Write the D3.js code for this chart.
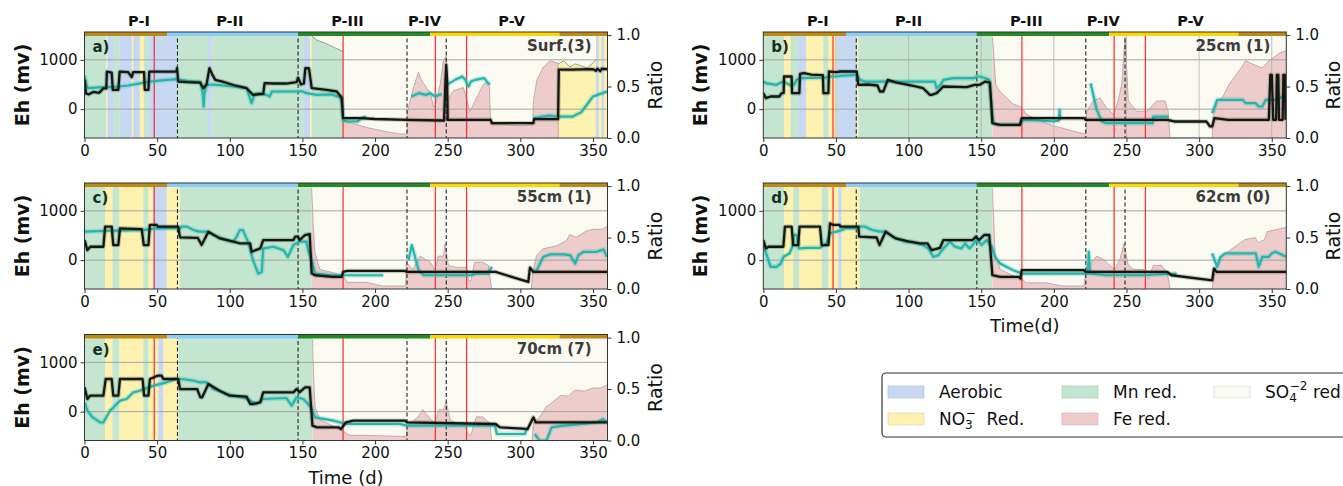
<!DOCTYPE html>
<html>
<head>
<meta charset="utf-8">
<script src="https://cdn.jsdelivr.net/npm/d3@7"></script>
<style>
  body { margin: 0; background: #fff; }
  svg { display: block; font-family: "DejaVu Sans", sans-serif; }
</style>
</head>
<body>
<svg id="chart" width="1343" height="486"></svg>
<script>
// ---- data (days, Eh in mV, ratio 0-1) ----
const ticksX = [0, 50, 100, 150, 200, 250, 300, 350];
const ticksEh = [0, 1000];
const ticksRatio = [0, 0.5, 1];
const redLines = [48, 178, 241.5, 263];
const dashLines = [64, 147, 222, 249];
const phaseNames = ["P-I", "P-II", "P-III", "P-IV", "P-V"];
const phaseCenters = [37.5, 100, 181, 234, 294];
const phaseBars = [[0, 57, "#bf8a14"], [57, 147, "#87cefa"], [147, 238, "#228b22"], [238, 327, "#ffd700"], [327, 360, "#bf8a14"]];

const regimeNames = ["Aerobic", "NO3 Red.", "Mn red.", "Fe red.", "SO4 red"];

// panel a) Surf.(3)
const spansA = [[0,15,"mn"],[15,15.8,"no3"],[15.8,20,"aer"],[20,24,"mn"],[24,32.5,"aer"],[32.5,33.6,"no3"],[33.6,38,"aer"],[38,41,"no3"],[41,44,"mn"],[44,63.5,"aer"],[63.5,85,"mn"],[85,87.5,"aer"],[87.5,150.6,"mn"],[150.6,155.2,"aer"],[155.2,156.4,"no3"],[156.4,178,"mn"],[178,326,"so4"],[326,352,"no3"],[352,354,"aer"],[354,356,"no3"],[356,357.5,"aer"],[357.5,360,"no3"]];
const feA = [[178,0.18],[185,0.14],[195,0.1],[205,0.07],[217,0.04],[222,0.04],[222.3,0.26],[226.4,0.49],[229.9,0.64],[232,0.56],[236.8,0.46],[238,0.45],[240.2,0.3],[241.5,0.32],[244.8,0.52],[247,0.75],[249,0.8],[249.3,0.36],[253.9,0.46],[260.8,0.49],[265.4,0.26],[268.8,0.36],[274.5,0.52],[276.8,0.54],[278.7,0.5],[279.6,0.13],[290,0.13],[300,0.12],[308.5,0.13],[309,0.36],[311.3,0.56],[315.9,0.69],[320.5,0.75],[325,0.73],[326,0.73],[326.1,0]];
const topA = [[156.4,0.99],[160,0.95],[166,0.92],[172,0.88],[177.8,0.84],null,[326,0.72],[330,0.75],[334,0.69],[338,0.72],[342,0.7],[346,0.68],[350,0.73],[352,0.76]];
const blackA = [[0,600],[1,320],[3,300],[6,350],[10,330],[13,420],[15,420],[15.4,760],[18.7,740],[19.5,390],[23.3,390],[24.2,760],[30,750],[32.5,650],[33.5,750],[41,750],[41.5,390],[44,390],[44.6,760],[63.3,760],[63.7,830],[64.5,560],[70,550],[79.5,540],[81.8,425],[84,500],[86,830],[88,700],[90,595],[95,560],[102.5,490],[111.6,425],[116,290],[123,310],[124,527],[130,520],[139,520],[146,550],[147,640],[149,500],[151,520],[152,830],[154.5,830],[156.4,425],[166.7,390],[173.6,358],[177,236],[178,-182],[190,-182],[200,-200],[221.8,-216],[247.5,-230],[248.5,600],[249,900],[249.6,600],[250,-216],[279.6,-216],[280.5,-284],[309,-284],[309.5,-203],[326,-203],[326.5,800],[335,800],[350,810],[352,780],[353,820],[355,770],[356,820],[360,810]];
const tealA = [[0,680],[1.5,480],[2.6,425],[10,440],[20,450],[30,480],[45,560],[55,590],[63.5,608],[65,595],[75,560],[80,550],[81.5,300],[82,54],[82.5,300],[84,500],[91,493],[102.5,460],[111.6,425],[115,120],[117,300],[120,324],[125,290],[127.5,257],[129,358],[140,358],[146,358],[150,360],[153,324],[160,290],[170,300],[175,250],[177,190],[178,-230],[181,-250],[188,-250],[192,-162],[194,-162],null,[225,257],[230,324],[235,290],[238,324],[241.3,257],[244,290],[246,300],null,[249.3,493],[255,595],[260,660],[262,600],[264.3,460],[266,560],[269,595],[275,628],[279,493],null,[309,-180],[315,-150],[320,-130],[326,-150],[336,-150],[342,-60],[350,257],[360,360]];

// panel b) 25cm (1)
const spansB = [[0,14.2,"mn"],[14.2,18.8,"no3"],[18.8,24,"mn"],[24,29.4,"aer"],[29.4,41.3,"no3"],[41.3,44.8,"mn"],[44.8,50.5,"no3"],[50.5,64.3,"aer"],[64.3,65.4,"no3"],[65.4,157.7,"mn"],[157.7,360,"so4"]];
const feB = [[157.7,0.98],[158.5,0.85],[160,0.52],[162.5,0.46],[167.5,0.39],[172,0.33],[177.9,0.3],[181,0.23],[190,0.17],[199.6,0.12],[210,0.08],[218,0.05],[222,0.04],[222.6,0.26],[227,0.36],[231.8,0.39],[236,0.3],[241,0.23],[244,0.35],[246.7,0.52],[249,0.98],[251.3,0.36],[257,0.26],[264,0.26],[266.1,0.29],[270.7,0.36],[276.4,0.36],[278.7,0.26],[280,0],[309,0],[309.5,0.2],[312.4,0.36],[315.9,0.39],[320.5,0.52],[327.4,0.65],[332,0.75],[336.6,0.72],[343.5,0.68],[348,0.75],[352.8,0.8],[356,0.83],[360,0.85]];
const topB = [];
const blackB = [[0,330],[1.8,223],[5,257],[11,257],[12.6,324],[14,324],[14.3,662],[19.5,662],[19.8,324],[24.8,324],[25.3,716],[28,730],[33,700],[41,690],[41.4,324],[44.8,324],[45.2,764],[50,750],[53,764],[64.3,764],[65.4,493],[72,500],[78.6,480],[80.3,358],[82.6,358],[85.7,595],[91.8,540],[103.3,473],[110,425],[114.7,290],[115.8,290],[119.3,324],[123.9,460],[140,446],[145.5,493],[149,493],[152.8,560],[156,540],[157.7,-284],[163,-318],[176.7,-318],[177.9,-182],[200,-182],[220.6,-182],[222,-216],[245,-216],[278,-216],[283,-250],[305,-250],[307.5,-351],[309,-351],[310.5,-182],[320,-216],[348,-216],[349,696],[350,696],[351,-216],[353,-216],[353.5,696],[354.5,696],[355,-216],[357.5,-216],[358,696],[359,696],[359.5,-216]];
const tealB = [[0,560],[2,527],[9,493],[13.8,560],[16,527],[19.5,473],[21,493],[23,595],[25,628],[43,640],[45,662],[50,662],[53,676],[64.3,696],[66.5,595],[70,560],[100,560],[118,560],[119.3,425],[122,493],[124,595],[131,628],[145,628],[147,662],[149,662],[152.8,628],[155.4,595],[158.3,-284],[160.5,-318],[176.7,-318],[179,-216],[190,-230],[200,-250],[203.5,-230],[204,-14],[204.3,-216],null,[225.3,527],[229.5,-14],[233,-250],[236,-284],[268,-284],[268.5,-150],[279,-150],null,[309,-81],[312.4,189],[330,189],[332,122],[338.9,122],[341,54],[343.5,54],[345.8,189],[352.8,189],[357.6,257],[360,257]];

// panel c) 55cm (1)
const spansC = [[0,14.1,"mn"],[14.1,19.4,"no3"],[19.4,24,"mn"],[24,40.5,"no3"],[40.5,44,"mn"],[44,47,"no3"],[47,56.5,"aer"],[56.5,65.7,"no3"],[65.7,156.4,"mn"],[156.4,360,"so4"]];
const feC = [[156.4,0.98],[157.5,0.6],[158.7,0.35],[162,0.19],[171,0.16],[178,0.13],[181,0.065],[194,0.065],[205,0.03],[221,0.03],[221.5,0.26],[226,0.19],[231,0.32],[238,0.26],[241.3,0.19],[243.6,0.32],[247,0.32],[248.2,0.44],[250.5,0.23],[256,0.21],[263,0.21],[264.5,0.08],[266,0.08],[268.5,0.26],[274,0.26],[278,0.23],[280.3,0],[307.5,0],[308.5,0.15],[311,0.32],[315.6,0.39],[324.8,0.42],[331.7,0.47],[334,0.53],[338.5,0.5],[345,0.56],[350,0.58],[356,0.58],[360,0.61]];
const topC = [];
const blackC = [[0,408],[2,204],[4,272],[13,272],[14.2,680],[18.7,680],[19.8,306],[23.3,306],[24.4,646],[39.4,630],[40.8,306],[44,306],[45,714],[49.7,714],[50.5,680],[64.5,680],[65.7,462],[78,450],[80.6,306],[85.3,578],[93,442],[102.5,374],[107,340],[114,340],[115,170],[121,238],[123,408],[143.8,408],[145,476],[147,476],[148,408],[151.8,510],[155,530],[156.4,-272],[158.7,-306],[171,-340],[177,-340],[178,-238],[181,-218],[220.6,-218],[222,-238],[283,-238],[294,-340],[305.5,-442],[306.6,-150],[308.9,-238],[360,-238]];
const tealC = [[0,578],[17.6,598],[24,598],[40.5,610],[44,626],[49.7,646],[65.7,646],[67,680],[70.5,680],[75,612],[79,578],[84,578],[88.7,510],[98,408],[102.5,374],[104.7,476],[107,612],[109,612],[113,340],[116,0],[119.6,-272],[122,-238],[123,238],[130,272],[137,204],[140,68],[143.8,306],[148,374],[152.8,374],[154,204],[156.4,0],[158.7,-272],[171,-306],[190,-306],[205.7,-306],null,[223,0],[225.3,306],[230,-204],[233.5,-306],[266,-306],[270,-272],[278,-272],[280.3,-136],null,[308,-238],[311.3,-204],[315.9,68],[320.5,116],[329.7,116],[334.3,102],[337.7,-68],[340,102],[343.5,170],[352.7,170],[357.3,218],[359.5,68]];

// panel d) 62cm (0)
const spansD = [[0,14.2,"mn"],[14.2,20.7,"no3"],[20.7,24.8,"mn"],[24.8,40.2,"no3"],[40.2,44.8,"mn"],[44.8,51.6,"no3"],[51.6,53.9,"aer"],[53.9,66.5,"no3"],[66.5,157.7,"mn"],[157.7,360,"so4"]];
const feD = [[157.7,0.98],[158.8,0.6],[159.5,0.35],[163,0.19],[172,0.13],[177.9,0.1],[181,0.06],[194.6,0.06],[206,0.03],[220.6,0.03],[222.6,0.23],[226,0.26],[229.5,0.32],[234,0.29],[238.5,0.23],[242,0.19],[245.5,0.29],[248.3,0.44],[251.3,0.23],[255,0.19],[261.6,0.19],[265,0.1],[268.5,0.23],[274,0.23],[277.9,0.16],[280.2,0],[308.9,0],[311,0.19],[313.6,0.29],[322.4,0.39],[331.6,0.48],[338.5,0.5],[340.8,0.45],[345,0.48],[347,0.56],[354,0.58],[360,0.6]];
const topD = [];
const blackD = [[0,408],[1.8,238],[3.5,272],[13.8,272],[14.9,680],[19.5,680],[20.6,306],[24,306],[25,680],[39,680],[40.2,306],[44.8,306],[45.9,748],[48,714],[52.5,714],[53,680],[65.4,680],[66,476],[78,460],[80,306],[84.2,578],[91,442],[100.5,374],[107.5,340],[113,340],[115.9,204],[121.6,250],[124,408],[144,408],[146.3,476],[148.6,408],[152,510],[155.5,510],[157.7,-306],[163,-340],[176,-340],[177,-374],[177.9,-204],[220.6,-204],[222,-238],[278,-238],[281,-306],[309,-408],[310.2,-170],[312,-238],[360,-238]];
const tealD = [[0,306],[3.5,0],[5,-136],[9,-136],[12,-68],[14,68],[18,136],[20,272],[21,510],[23,510],[24.6,238],[30,250],[39,250],[43.5,340],[45.9,544],[52.8,598],[57,646],[64.3,646],[66.5,680],[70,680],[75,612],[80,578],[84.2,578],[89,476],[98,374],[102.5,374],[110,306],[113.6,238],[117,68],[120.5,102],[124,238],[128.5,374],[132,272],[136.5,238],[138.9,340],[142,238],[147,408],[150.3,306],[153.8,408],[157.3,272],[159.5,68],[163,-68],[172,-204],[178,-272],[200,-272],[223.5,-272],[224,170],[225,-272],[236,-306],[260,-306],[284.5,-272],null,[309,136],[312.4,-136],[314.7,68],[318,136],[339,136],[341,-136],[343.5,68],[348,68],[350,136],[352.4,170],[357.6,102],[360,68]];

// panel e) 70cm (7)
const spansE = [[0,14.1,"mn"],[14.1,19.2,"no3"],[19.2,24,"mn"],[24,40.5,"no3"],[40.5,44,"mn"],[44,50.8,"no3"],[50.8,54.3,"aer"],[54.3,64.6,"no3"],[64.6,156.9,"mn"],[156.9,360,"so4"]];
const feE = [[156.9,0.98],[157.8,0.6],[158.7,0.33],[162.2,0.2],[171.3,0.14],[177,0.1],[182.8,0.05],[194.3,0.05],[217,0.04],[221.5,0.04],[222,0.14],[229.6,0.23],[232.9,0.3],[237.5,0.22],[241,0.17],[244,0.3],[247,0.3],[249,0.38],[251.7,0.2],[256,0.17],[261,0.17],[264,0.055],[266,0.055],[269.7,0.23],[274,0.23],[279,0.17],[280.3,0],[308,0],[309,0.17],[313.4,0.23],[318,0.33],[321,0.36],[328,0.44],[333,0.43],[337.5,0.49],[344,0.48],[350,0.51],[355,0.51],[359.5,0.54]];
const topE = [];
const blackE = [[0,493],[2,257],[3.8,324],[13,324],[14.6,662],[18.7,662],[19.8,324],[23.3,324],[24.4,662],[40,662],[41,324],[44,324],[45,662],[50.5,730],[53,730],[54.3,662],[64.5,662],[65.7,459],[77.5,459],[79.8,290],[81,290],[85.3,560],[93,425],[100,324],[111.6,304],[114,155],[116,155],[121,189],[123,392],[143.8,392],[146,459],[148,392],[151.8,493],[155,493],[156.9,-284],[160,-318],[175,-318],[176.5,-351],[180,-216],[185,-182],[220.6,-182],[222,-216],[283,-250],[286,-318],[305,-351],[309,-115],[310.5,-216],[360,-216]];
const tealE = [[0,189],[2,20],[5.6,-115],[10.7,-216],[13,-216],[15,-115],[17.5,20],[20,88],[24.4,223],[29,257],[33.6,392],[38,425],[44,493],[47.5,527],[56.5,595],[63,662],[67,662],[75,628],[79.5,595],[84,595],[88.7,459],[98,358],[102.5,324],[109,290],[112.5,257],[116,189],[118.3,155],[123,257],[139,277],[142.6,122],[146,290],[150.6,257],[154,155],[156.4,54],[158.7,-115],[171.3,-182],[180,-250],[217,-250],[222,-284],[282.6,-284],[283.8,-453],[303,-453],[304.5,-351],null,[309.9,-453],[313.4,-588],[318,-588],[321.5,-318],[330,-284],[343,-250],[352.7,-216],[357,-149],[359.5,-216]];

// ---- drawing ----
const regimeColor = { aer: "#c6d8f2", no3: "#fdf1b0", mn: "#c4e6d0", fe: "#efcccc", so4: "#fbfaf2" };
const W = 523, H = 106;
const svg = d3.select("#chart");

const panels = [
  { id: "a", tag: "a)", name: "Surf.(3)", x0: 84.5, y0: 32, spans: spansA, fe: feA, top: topA, black: blackA, teal: tealA, phases: true },
  { id: "b", tag: "b)", name: "25cm (1)", x0: 763.3, y0: 32, spans: spansB, fe: feB, top: topB, black: blackB, teal: tealB, phases: true, vgrid: true },
  { id: "c", tag: "c)", name: "55cm (1)", x0: 84.5, y0: 183, spans: spansC, fe: feC, top: topC, black: blackC, teal: tealC },
  { id: "d", tag: "d)", name: "62cm (0)", x0: 763.3, y0: 183, spans: spansD, fe: feD, top: topD, black: blackD, teal: tealD, xlabel: "Time(d)" },
  { id: "e", tag: "e)", name: "70cm (7)", x0: 84.5, y0: 334.5, spans: spansE, fe: feE, top: topE, black: blackE, teal: tealE, xlabel: "Time (d)" }
];

function drawPanel(p) {
  const x = d3.scaleLinear().domain([0, 360]).range([p.x0, p.x0 + W]);
  const yEh = d3.scaleLinear().domain([-585, 1565]).range([p.y0 + H, p.y0]);
  const yR = d3.scaleLinear().domain([0, 1.03]).range([p.y0 + H, p.y0]);

  svg.append("clipPath").attr("id", "clip" + p.id)
    .append("rect").attr("x", p.x0).attr("y", p.y0).attr("width", W).attr("height", H);
  const g = svg.append("g").attr("clip-path", "url(#clip" + p.id + ")");

  // regime background
  g.selectAll("rect.span").data(p.spans).join("rect")
    .attr("x", d => x(d[0])).attr("width", d => x(d[1]) - x(d[0]) + 0.3)
    .attr("y", p.y0).attr("height", H)
    .attr("fill", d => regimeColor[d[2]]);

  // Fe red. fraction from the bottom
  const feArea = d3.area().defined(d => d).x(d => x(d[0])).y0(yR(0)).y1(d => yR(d[1]));
  g.append("path").datum(p.fe).attr("d", feArea).attr("fill", regimeColor.fe);
  g.append("path").datum(p.fe).attr("d", d3.line().defined(d => d).x(d => x(d[0])).y(d => yR(d[1])))
    .attr("fill", "none").attr("stroke", "#8a7474").attr("stroke-width", 0.6).attr("opacity", 0.8);

  // SO4 fraction from the top
  if (p.top.length) {
    const topArea = d3.area().defined(d => d).x(d => x(d[0])).y0(p.y0).y1(d => yR(d[1]));
    g.append("path").datum(p.top).attr("d", topArea).attr("fill", regimeColor.so4);
    g.append("path").datum(p.top).attr("d", d3.line().defined(d => d).x(d => x(d[0])).y(d => yR(d[1])))
      .attr("fill", "none").attr("stroke", "#666").attr("stroke-width", 0.6);
  }

  // grid
  g.selectAll("line.hg").data(ticksEh).join("line")
    .attr("x1", p.x0).attr("x2", p.x0 + W).attr("y1", d => yEh(d)).attr("y2", d => yEh(d))
    .attr("stroke", "#a4a4a4").attr("stroke-width", 1);
  if (p.vgrid) {
    g.selectAll("line.vg").data(ticksX.slice(1)).join("line")
      .attr("x1", d => x(d)).attr("x2", d => x(d)).attr("y1", p.y0).attr("y2", p.y0 + H)
      .attr("stroke", "#b0b0b0").attr("stroke-width", 0.8);
  }

  // event lines
  g.selectAll("line.red").data(redLines).join("line")
    .attr("x1", d => x(d)).attr("x2", d => x(d)).attr("y1", p.y0).attr("y2", p.y0 + H)
    .attr("stroke", "#ff2b2b").attr("stroke-width", 1.2);
  g.selectAll("line.dash").data(dashLines).join("line")
    .attr("x1", d => x(d)).attr("x2", d => x(d)).attr("y1", p.y0).attr("y2", p.y0 + H)
    .attr("stroke", "#222").attr("stroke-width", 1.1).attr("stroke-dasharray", "4,2.5");

  // Eh series, with a faint halo like the shaded spread
  const ehLine = d3.line().defined(d => d).x(d => x(d[0])).y(d => yEh(d[1]));
  g.append("path").datum(p.teal).attr("d", ehLine)
    .attr("fill", "none").attr("stroke", "#24b6ad").attr("stroke-opacity", 0.25).attr("stroke-width", 5).attr("stroke-linejoin", "round");
  g.append("path").datum(p.teal).attr("d", ehLine)
    .attr("fill", "none").attr("stroke", "#24b6ad").attr("stroke-width", 2.2).attr("stroke-linejoin", "round");
  g.append("path").datum(p.black).attr("d", ehLine)
    .attr("fill", "none").attr("stroke", "#2a3a2a").attr("stroke-opacity", 0.25).attr("stroke-width", 4.5).attr("stroke-linejoin", "round");
  g.append("path").datum(p.black).attr("d", ehLine)
    .attr("fill", "none").attr("stroke", "#121712").attr("stroke-width", 2.3).attr("stroke-linejoin", "round");

  // phase bar on top
  g.selectAll("rect.pb").data(phaseBars).join("rect")
    .attr("x", d => x(d[0])).attr("width", d => x(d[1]) - x(d[0]))
    .attr("y", p.y0).attr("height", 4).attr("fill", d => d[2]);

  // frame
  svg.append("rect").attr("x", p.x0).attr("y", p.y0).attr("width", W).attr("height", H)
    .attr("fill", "none").attr("stroke", "#333").attr("stroke-width", 1);

  // axes
  const fmtAxis = sel => {
    sel.select(".domain").remove();
    sel.selectAll("text").attr("font-size", 15).attr("font-family", "DejaVu Sans").attr("fill", "#111");
    sel.selectAll("line").attr("stroke", "#333");
  };
  svg.append("g").attr("transform", `translate(0,${p.y0 + H})`)
    .call(d3.axisBottom(x).tickValues(ticksX).tickFormat(d3.format("d")).tickSize(4).tickPadding(3)).call(fmtAxis);
  svg.append("g").attr("transform", `translate(${p.x0},0)`)
    .call(d3.axisLeft(yEh).tickValues(ticksEh).tickFormat(d3.format("d")).tickSize(4).tickPadding(3)).call(fmtAxis);
  svg.append("g").attr("transform", `translate(${p.x0 + W},0)`)
    .call(d3.axisRight(yR).tickValues(ticksRatio).tickFormat(d3.format(".1f")).tickSize(4).tickPadding(5)).call(fmtAxis);

  // labels
  svg.append("text").attr("transform", `translate(${p.x0 - 63},${p.y0 + H / 2}) rotate(-90)`)
    .attr("text-anchor", "middle").attr("dominant-baseline", "central")
    .attr("font-size", 19).attr("font-weight", "bold").attr("fill", "#111").text("Eh (mv)");
  svg.append("text").attr("transform", `translate(${p.x0 + W + 47},${p.y0 + H / 2}) rotate(-90)`)
    .attr("text-anchor", "middle").attr("dominant-baseline", "central")
    .attr("font-size", 19).attr("fill", "#111").text("Ratio");
  svg.append("text").attr("x", p.x0 + 8).attr("y", p.y0 + 20)
    .attr("font-size", 15).attr("font-weight", "bold").attr("fill", "#17301f").text(p.tag);
  svg.append("text").attr("x", p.x0 + W - 16).attr("y", p.y0 + 19).attr("text-anchor", "end")
    .attr("font-size", 15).attr("font-weight", "bold").attr("fill", "#3c3c3c").text(p.name);

  if (p.phases) {
    svg.selectAll(null).data(phaseNames).join("text")
      .attr("x", (d, i) => x(phaseCenters[i])).attr("y", p.y0 - 11)
      .attr("text-anchor", "middle").attr("dominant-baseline", "central")
      .attr("font-size", 14.5).attr("font-weight", "bold").attr("fill", "#111").text(d => d);
  }
  if (p.xlabel) {
    svg.append("text").attr("x", p.x0 + W / 2).attr("y", p.y0 + H + 43)
      .attr("text-anchor", "middle").attr("font-size", 18).attr("fill", "#111").text(p.xlabel);
  }
}

panels.forEach(drawPanel);

// ---- legend ----
const leg = svg.append("g");
leg.append("rect").attr("x", 882).attr("y", 373).attr("width", 480).attr("height", 64).attr("rx", 4)
  .attr("fill", "#fff").attr("stroke", "#333").attr("stroke-width", 1.2);
const legItems = [
  { key: "aer", x: 888, y: 392, label: regimeNames[0] },
  { key: "no3", x: 888, y: 419, label: regimeNames[1] },
  { key: "mn", x: 1062, y: 392, label: regimeNames[2] },
  { key: "fe", x: 1062, y: 419, label: regimeNames[3] },
  { key: "so4", x: 1214, y: 392, label: regimeNames[4] }
];
legItems.forEach(it => {
  leg.append("rect").attr("x", it.x).attr("y", it.y - 6).attr("width", 36).attr("height", 12)
    .attr("fill", regimeColor[it.key]).attr("stroke", d3.color(regimeColor[it.key]).darker(0.4)).attr("stroke-width", 0.6);
  const t = leg.append("text").attr("x", it.x + 51).attr("y", it.y + 6)
    .attr("font-size", 17).attr("fill", "#111");
  if (it.key === "no3") {
    t.append("tspan").text("NO");
    t.append("tspan").attr("font-size", 12).attr("dy", 4).text("3");
    t.append("tspan").attr("font-size", 12).attr("dx", -7).attr("dy", -12).text("\u2212");
    t.append("tspan").attr("dy", 8).text("\u00a0 Red.");
  } else if (it.key === "so4") {
    t.append("tspan").text("SO");
    t.append("tspan").attr("font-size", 12).attr("dy", 4).text("4");
    t.append("tspan").attr("font-size", 12).attr("dx", -7).attr("dy", -12).text("\u22122");
    t.append("tspan").attr("dy", 8).text(" red");
  } else {
    t.text(it.label);
  }
});
</script>
</body>
</html>
